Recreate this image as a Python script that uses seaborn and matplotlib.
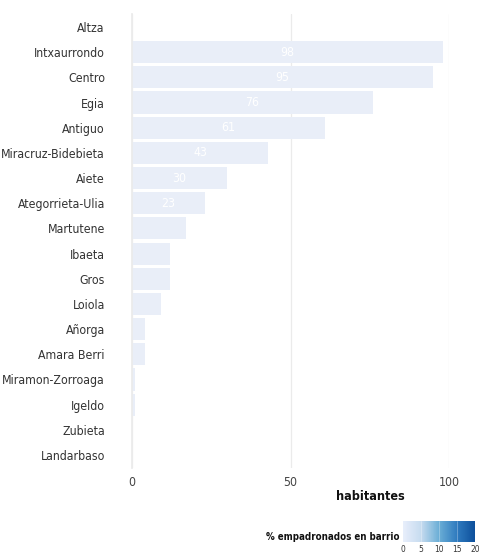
import numpy as np
import pandas as pd
import seaborn as sns
import matplotlib.pyplot as plt
import matplotlib as mpl
from matplotlib.colors import LinearSegmentedColormap, Normalize

barrios = [
    "Altza", "Intxaurrondo", "Centro", "Egia", "Antiguo", "Miracruz-Bidebieta",
    "Aiete", "Ategorrieta-Ulia", "Martutene", "Ibaeta", "Gros", "Loiola",
    "Añorga", "Amara Berri", "Miramon-Zorroaga", "Igeldo", "Zubieta", "Landarbaso",
]
habitantes = [0, 98, 95, 76, 61, 43, 30, 23, 17, 12, 12, 9, 4, 4, 1, 1, 0, 0]
pct_empadronados = [0.3, 0.3, 0.3, 0.3, 0.3, 0.3, 0.3, 0.3, 0.3,
                    0.3, 0.3, 0.3, 0.3, 0.3, 0.3, 0.3, 0.3, 0.3]
cbar_ticks = [0, 5, 10, 15, 20]

df = pd.DataFrame({"barrio": barrios, "habitantes": habitantes, "pct": pct_empadronados})

sns.set_theme(style="white")
plt.rcParams["font.family"] = ["DejaVu Sans"]
plt.rcParams["font.stretch"] = "condensed"

cmap = LinearSegmentedColormap.from_list(
    "blues", ["#e8eefb", "#c6dbef", "#6baed6", "#2f7bbf", "#0d4f9b"])
norm = Normalize(0, 20)
colors = [cmap(norm(v)) for v in df["pct"]]

fig = plt.figure(figsize=(4.81, 5.55), dpi=100)
ax = fig.add_axes([132 / 481, 1 - 467.6 / 555, (449 - 132) / 481, (467.6 - 14.4) / 555])

sns.barplot(data=df, x="habitantes", y="barrio", hue="barrio", palette=colors,
            legend=False, orient="h", width=0.88, ax=ax, linewidth=0)

ax.set_xlim(0, 100)
ax.set_xticks([0, 50, 100])
ax.grid(True, axis="x", color="#ebebeb", linewidth=0.9)
ax.set_axisbelow(True)
for s in ["top", "right", "bottom"]:
    ax.spines[s].set_visible(False)
ax.spines["left"].set_color("#ebebeb")
ax.set_xlabel("")
ax.set_ylabel("")
ax.tick_params(axis="y", length=0, pad=19.5, labelsize=8.8, labelcolor="#333333")
ax.tick_params(axis="x", length=0, pad=6, labelsize=8.8, labelcolor="#444444")

for i, v in enumerate(df["habitantes"]):
    if v >= 20:
        ax.text(v / 2, i, f"{v}", color="white", ha="center", va="center", fontsize=8.8)

fig.text(370 / 481, 1 - 497 / 555, "habitantes", ha="center", va="center",
         fontsize=9, fontweight="bold", color="#111111")

# colour legend
cax = fig.add_axes([403 / 481, 1 - 542 / 555, 72 / 481, 21 / 555])
cb = mpl.colorbar.ColorbarBase(cax, cmap=cmap, norm=norm, orientation="horizontal",
                               ticks=cbar_ticks)
cb.outline.set_visible(False)
cax.tick_params(length=0, pad=2, labelsize=6, labelcolor="#333333")
for t in cbar_ticks[1:-1]:
    cax.axvline(t, color="white", linewidth=0.5, alpha=0.4)
fig.text(400 / 481, 1 - 537 / 555, "% empadronados en barrio", ha="right", va="center",
         fontsize=7, fontweight="semibold", color="#111111")

fig.savefig("out.png", dpi=100)
